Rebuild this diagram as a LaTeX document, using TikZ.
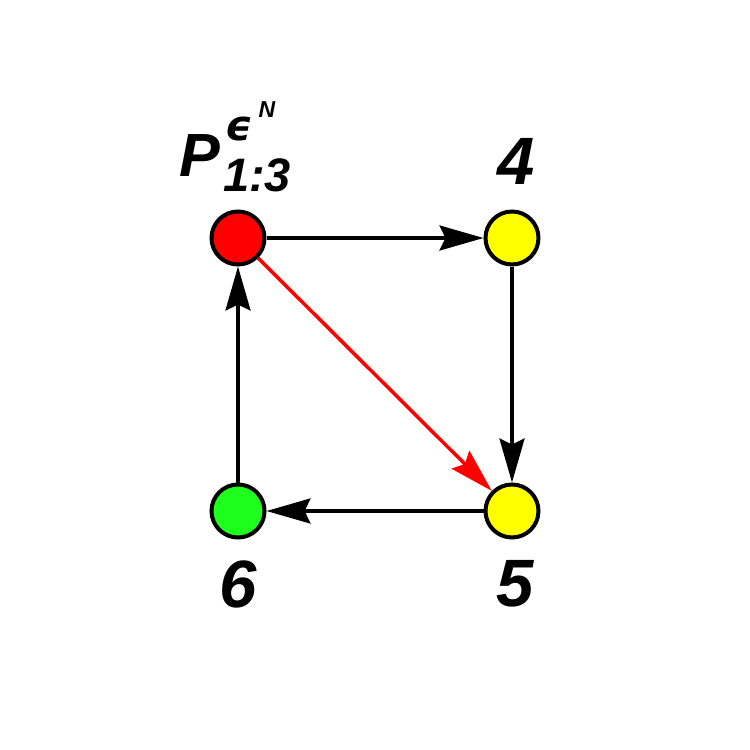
\documentclass[tikz,border=0pt]{standalone}
\usepackage{fontspec}
\setmainfont{Liberation Sans}
\newfontfamily\dejafont{DejaVu Sans}
\usetikzlibrary{arrows.meta}
\definecolor{nodered}{RGB}{255,0,0}
\definecolor{nodeyellow}{RGB}{255,255,0}
\definecolor{nodegreen}{RGB}{30,255,30}
\tikzset{
  vert/.style={circle,draw=black,line width=4pt,minimum size=53pt,inner sep=0pt},
  conn/.style={line width=3.5pt,-{Stealth[length=44pt,width=25pt,inset=6pt]}},
  lbl/.style={inner sep=0pt,font=\bfseries\itshape\fontsize{67}{67}\selectfont}
}
\begin{document}
\begin{tikzpicture}[x=1pt,y=-1pt]
\useasboundingbox (0,0) rectangle (750,750);
\fill[white] (0,0) rectangle (750,750);
\node[vert,fill=nodered] (p) at (238,238) {};
\node[vert,fill=nodeyellow] (n4) at (512,238) {};
\node[vert,fill=nodeyellow] (n5) at (512,511) {};
\node[vert,fill=nodegreen] (n6) at (238,511) {};
\draw[conn] (p) -- (n4);
\draw[conn] (n4) -- (n5);
\draw[conn] (n5) -- (n6);
\draw[conn] (n6) -- (p);
\draw[conn,draw=nodered,fill=nodered] (p) -- (n5);
\node[lbl] (l4) at (516,161) {4};
\node[lbl] (l5) at (515,584) {5};
\node[lbl] (l6) at (238,584) {6};
\node[inner sep=0pt,font=\bfseries\itshape\fontsize{61}{61}\selectfont] (lp) at (200,156) {P};
\node[inner sep=0pt,font=\bfseries\itshape\fontsize{47}{47}\selectfont] (lsub) at (257,175) {1:3};
\node[inner sep=0pt,font=\dejafont\bfseries\itshape\fontsize{42}{42}\selectfont] (leps) at (239,129) {ϵ};
\node[inner sep=0pt,font=\bfseries\itshape\fontsize{23}{23}\selectfont] (lN) at (267,110) {N};
\end{tikzpicture}
\end{document}
